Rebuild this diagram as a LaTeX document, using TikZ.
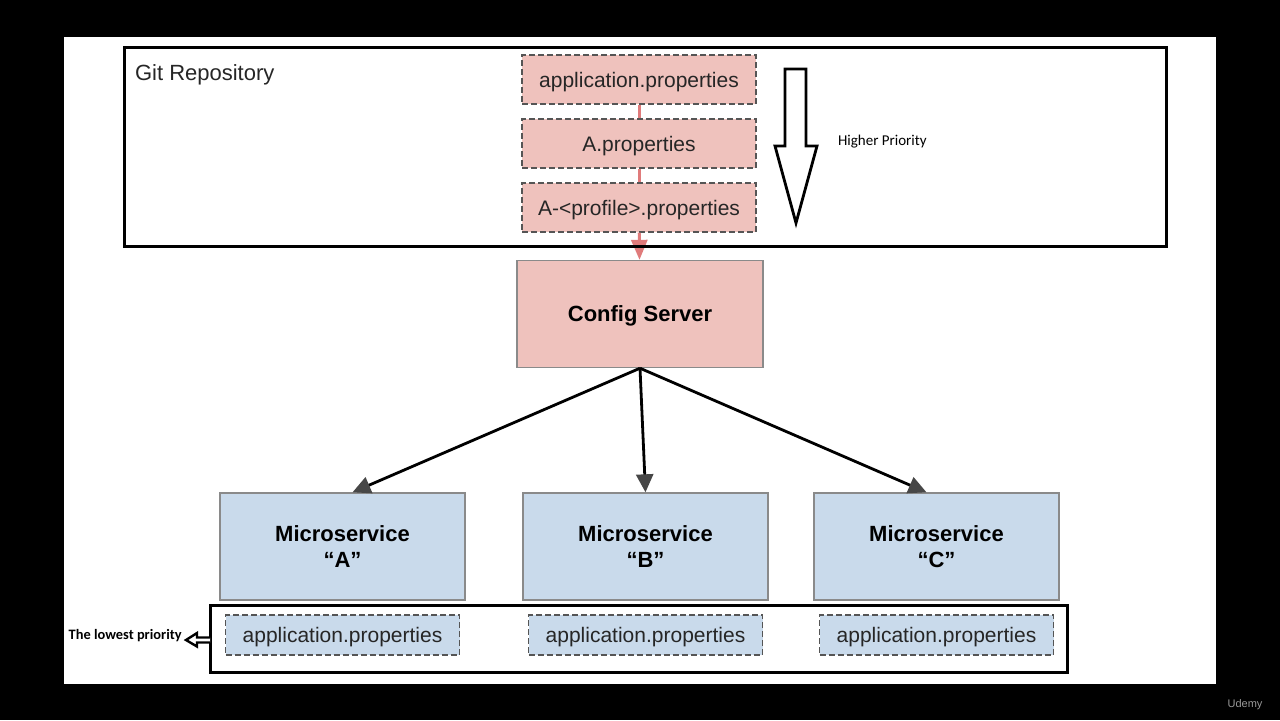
\documentclass[tikz,border=0pt]{standalone}
\usepackage{fontspec}
\setmainfont{Liberation Sans}
\newfontfamily\calibri{Carlito}
\usetikzlibrary{shapes,arrows.meta,positioning}
\definecolor{pinkfill}{HTML}{EFC2BD}
\definecolor{pinkline}{HTML}{E07B7B}
\definecolor{bluefill}{HTML}{C9DAEB}
\definecolor{boxedge}{HTML}{8A8A8A}
\definecolor{dashedge}{HTML}{555555}
\definecolor{tipgray}{HTML}{474747}
\tikzstyle{propfile} = [rectangle, draw=dashedge, dash pattern=on 3pt off 1.5pt, line width=0.7pt,
    fill=pinkfill, minimum width=117pt, minimum height=24.5pt, text depth=0pt,
    font=\fontsize{10.5}{12}\selectfont, text=black!85]
\tikzstyle{localfile} = [propfile, fill=bluefill, minimum height=20pt]
\tikzstyle{server} = [rectangle, draw=boxedge, line width=0.7pt, fill=pinkfill,
    minimum width=123pt, minimum height=53.5pt, font=\fontsize{11}{13}\selectfont\bfseries, align=center]
\tikzstyle{service} = [server, fill=bluefill, minimum width=122.5pt]
\tikzstyle{chain} = [draw=pinkline, line width=1.5pt]
\tikzstyle{feed} = [draw, line width=1.4pt, -{Triangle[length=9pt,width=8.5pt,color=tipgray]}]
\tikzstyle{frame} = [draw, line width=1.5pt]
\tikzstyle{hollow} = [draw, line width=1.4pt, fill=white, line join=miter]
\begin{document}
\begin{tikzpicture}[x=0.5pt, y=-0.5pt]
    % Background
    \fill [black] (0,0) rectangle (1280,720);
    \fill [white] (64,37) rectangle (1216,684);

    % Place nodes
    \node [propfile] (appprops) at (639,79.5) {application.properties};
    \node [propfile, below of=appprops, node distance=32pt] (aprops) {A.properties};
    \node [propfile, below of=aprops, node distance=32pt] (profprops) {A-<profile>.properties};
    \node [server, text depth=0pt] (config) at (640,314) {Config Server};
    \node [service, below of=config, node distance=116.25pt, xshift=2.75pt] (msB) {Microservice\\``B''};
    \node [service, left of=msB, node distance=151.5pt] (msA) {Microservice\\``A''};
    \node [service, right of=msB, node distance=145.5pt] (msC) {Microservice\\``C''};
    \node [localfile, below of=msA, node distance=44.25pt] (localA) {application.properties};
    \node [localfile, below of=msB, node distance=44.25pt] (localB) {application.properties};
    \node [localfile, below of=msC, node distance=44.25pt] (localC) {application.properties};

    \node [anchor=west, font=\fontsize{11}{13}\selectfont, text=black!85] (gitlabel) at (128,75) {Git Repository};
    \node [anchor=west, font=\calibri\fontsize{7.5}{9}\selectfont] (higher) at (831,142) {Higher Priority};
    \node [anchor=east, font=\calibri\bfseries\fontsize{7.2}{9}\selectfont, inner sep=1pt] (lowest) at (184,636) {The lowest priority};
    \node [font=\fontsize{5.5}{7}\selectfont, text=gray!80] (logo) at (1245,705) {Udemy};

    % Draw edges
    \path [chain] (appprops) -- (aprops);
    \path [chain] (aprops) -- (profprops);
    \path [chain, -{Triangle[length=10pt,width=8pt]}] (profprops) -- (config);
    \path [feed] (config.south) -- ([xshift=5pt]msA.north);
    \path [feed] (config.south) -- (msB.north);
    \path [feed] (config.south) -- ([xshift=-5pt]msC.north);

    % Frames and priority arrows
    \draw [frame] (124,47) rectangle (1166,246);
    \draw [frame] (210,605) rectangle (1067,672);
    \draw [hollow] (785,69) -- (806,69) -- (806,146) -- (817,146) -- (796,223) -- (775,146) -- (785,146) -- cycle;
    \draw [hollow, line width=1.2pt] (210,637.5) -- (197,637.5) -- (197,633) -- (186,640) -- (197,646.5) -- (197,642.5) -- (210,642.5);
\end{tikzpicture}
\end{document}
